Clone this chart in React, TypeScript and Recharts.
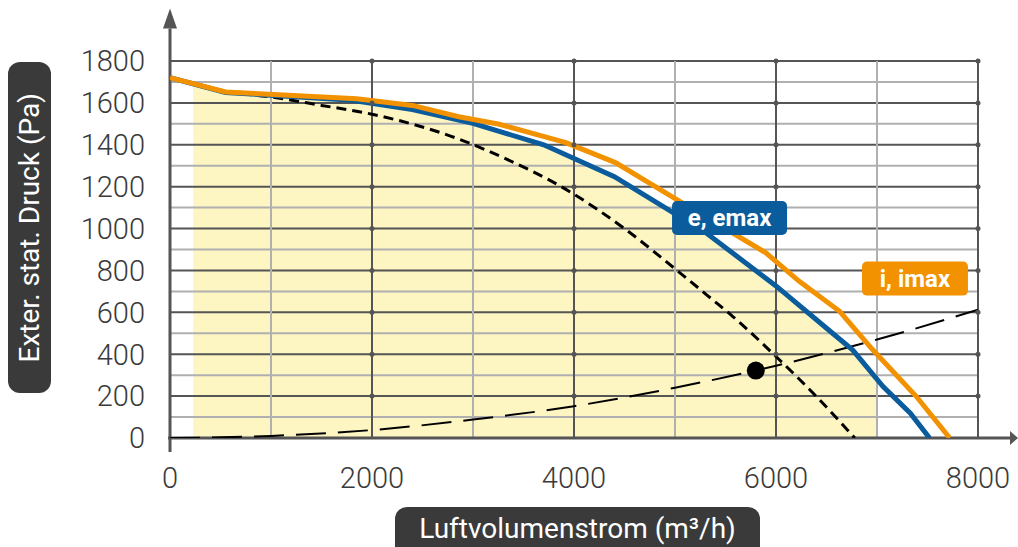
import React from "react";
import {
  ComposedChart,
  Line,
  Area,
  XAxis,
  YAxis,
  ReferenceLine,
  ReferenceDot,
} from "recharts";

// e, emax (blue)
const flowE = [0, 550, 1800, 2400, 3000, 3700, 4400, 5300, 6000, 6560, 6760, 7060, 7330, 7520];
const pressE = [1720, 1650, 1612, 1568, 1502, 1400, 1248, 982, 726, 500, 420, 246, 118, 0];

// i, imax (orange)
const flowI = [0, 550, 1850, 2400, 2860, 3260, 3920, 4410, 5010, 5900, 6230, 6630, 6960, 7390, 7720];
const pressI = [1720, 1652, 1620, 1588, 1534, 1498, 1410, 1315, 1140, 884, 748, 605, 420, 198, 0];

// short dashed curve
const flowD = [550, 1000, 1500, 2000, 2860, 3260, 3920, 4510, 5010, 5370, 5570, 6000, 6400, 6780];
const pressD = [1650, 1628, 1588, 1546, 1427, 1347, 1187, 996, 804, 661, 581, 389, 198, 0];

// system curve (long dashes)
const flowS = [0, 1000, 2000, 3000, 4000, 5000, 6000, 7000, 8000];
const pressS = [0, 10, 38, 88, 152, 240, 345, 470, 612];

// yellow working range
const flowF = [230, 550, 1800, 2400, 3000, 3700, 4400, 5300, 6000, 6560, 6760, 7000];
const pressF = [1692, 1650, 1612, 1568, 1502, 1400, 1248, 982, 726, 500, 420, 280];

const opPoint = { q: 5800, p: 322 };

const xTicks = [0, 2000, 4000, 6000, 8000];
const yTicks = [0, 200, 400, 600, 800, 1000, 1200, 1400, 1600, 1800];
const xGrid = [1000, 2000, 3000, 4000, 5000, 6000, 7000, 8000];
const yGrid = [100, 200, 300, 400, 500, 600, 700, 800, 900, 1000, 1100, 1200, 1300, 1400, 1500, 1600, 1700, 1800];
const dotX = [2000, 4000, 6000, 8000];
const dotY = [200, 400, 600, 800, 1000, 1200, 1400, 1600, 1800];

const labelE = { q: 5540, p: 1050, text: "e, emax" };
const labelI = { q: 7376, p: 761, text: "i, imax" };

const BLUE = "#0a5c9c";
const ORANGE = "#f39200";
const DARK = "#555555";
const LIGHT = "#b0b0b0";

function buildRows() {
  const rows: any[] = [];
  flowE.forEach((q, i) => rows.push({ q, e: pressE[i] }));
  flowI.forEach((q, i) => rows.push({ q, i: pressI[i] }));
  flowD.forEach((q, i) => rows.push({ q, d: pressD[i] }));
  flowS.forEach((q, i) => rows.push({ q, s: pressS[i] }));
  flowF.forEach((q, i) => rows.push({ q, f: pressF[i] }));
  rows.sort((a, b) => a.q - b.q);
  return rows;
}

const rows = buildRows();

const tagShape = (text: string, color: string, w: number) => (props: any) => {
  const { cx, cy } = props;
  return (
    <g>
      <rect x={cx - w / 2} y={cy - 17} width={w} height={34} rx={5} fill={color} />
      <text
        x={cx}
        y={cy + 8}
        textAnchor="middle"
        fill="#fff"
        fontSize={24}
        fontWeight={700}
        fontFamily="Roboto, sans-serif"
      >
        {text}
      </text>
    </g>
  );
};

const upArrow = (props: any) => {
  const { cx, cy } = props;
  return <path d={`M${cx - 7},${cy} L${cx},${cy - 20} L${cx + 7},${cy} Z`} fill={DARK} />;
};

const rightArrow = (props: any) => {
  const { cx, cy } = props;
  return <path d={`M${cx - 8},${cy - 7} L${cx},${cy} L${cx - 8},${cy + 7} Z`} fill={DARK} />;
};

const tickStyle = { fontSize: 29, fill: "#3a3a3a", fontFamily: "Roboto, sans-serif", fontWeight: 300 };

export default function App() {
  return (
    <div style={{ position: "relative", width: 1018, height: 547, background: "#fff", overflow: "hidden" }}>
      <style>{"body{margin:0}"}</style>

      <ComposedChart
        width={1018}
        height={547}
        data={rows}
        margin={{ top: 61, right: 40, bottom: 0, left: 0 }}
      >
        <XAxis
          dataKey="q"
          type="number"
          domain={[0, 8000]}
          ticks={xTicks}
          height={109}
          axisLine={false}
          tickLine={false}
          tickSize={0}
          tickMargin={29}
          tick={tickStyle}
          allowDataOverflow
        />
        <YAxis
          type="number"
          domain={[0, 1800]}
          ticks={yTicks}
          width={170}
          axisLine={false}
          tickLine={false}
          tickSize={0}
          tickMargin={25}
          tick={tickStyle}
          allowDataOverflow
        />

        <Area
          dataKey="f"
          type="linear"
          stroke="none"
          fill="#fdf5c2"
          fillOpacity={1}
          connectNulls
          isAnimationActive={false}
          dot={false}
          activeDot={false}
        />

        {yGrid.map((v) => (
          <ReferenceLine
            key={"h" + v}
            y={v}
            stroke={v % 200 === 0 ? DARK : LIGHT}
            strokeWidth={2}
          />
        ))}
        {xGrid.map((v) => (
          <ReferenceLine
            key={"v" + v}
            x={v}
            stroke={v % 2000 === 0 ? DARK : LIGHT}
            strokeWidth={2}
          />
        ))}
        {dotX.map((x) =>
          dotY.map((y) => (
            <ReferenceDot key={`d${x}-${y}`} x={x} y={y} r={2.5} fill={DARK} stroke="none" />
          ))
        )}

        {/* axes with arrows */}
        <ReferenceLine
          segment={[{ x: -20, y: 0 }, { x: 8320, y: 0 }]}
          stroke={DARK}
          strokeWidth={3}
          ifOverflow="visible"
        />
        <ReferenceLine
          segment={[{ x: 0, y: -67 }, { x: 0, y: 1955 }]}
          stroke={DARK}
          strokeWidth={3}
          ifOverflow="visible"
        />
        <ReferenceDot x={0} y={1955} r={1} ifOverflow="visible" shape={upArrow} />
        <ReferenceDot x={8396} y={0} r={1} ifOverflow="visible" shape={rightArrow} />

        <Line
          dataKey="s"
          type="monotone"
          stroke="#000"
          strokeWidth={2}
          strokeDasharray="30 12"
          dot={false}
          activeDot={false}
          connectNulls
          isAnimationActive={false}
        />
        <Line
          dataKey="d"
          type="monotone"
          stroke="#000"
          strokeWidth={3}
          strokeDasharray="10 6"
          dot={false}
          activeDot={false}
          connectNulls
          isAnimationActive={false}
        />
        <Line
          dataKey="e"
          type="linear"
          stroke={BLUE}
          strokeWidth={5}
          dot={false}
          activeDot={false}
          connectNulls
          isAnimationActive={false}
        />
        <Line
          dataKey="i"
          type="linear"
          stroke={ORANGE}
          strokeWidth={5}
          dot={false}
          activeDot={false}
          connectNulls
          isAnimationActive={false}
        />

        <ReferenceDot x={opPoint.q} y={opPoint.p} r={9} fill="#000" stroke="none" />

        <ReferenceDot x={labelE.q} y={labelE.p} r={1} shape={tagShape(labelE.text, BLUE, 115)} />
        <ReferenceDot x={labelI.q} y={labelI.p} r={1} shape={tagShape(labelI.text, ORANGE, 106)} />
      </ComposedChart>

      <div
        style={{
          position: "absolute",
          left: 8,
          top: 62,
          width: 43,
          height: 331,
          borderRadius: 12,
          background: "#3a3a3a",
          display: "flex",
          alignItems: "center",
          justifyContent: "center",
        }}
      >
        <span
          style={{
            writingMode: "vertical-rl",
            transform: "rotate(180deg)",
            color: "#fff",
            fontFamily: "Roboto, sans-serif",
            fontSize: 28,
            whiteSpace: "nowrap",
          }}
        >
          Exter. stat. Druck (Pa)
        </span>
      </div>
      <div
        style={{
          position: "absolute",
          left: 395,
          top: 507,
          width: 365,
          height: 52,
          borderRadius: 12,
          background: "#3a3a3a",
          color: "#fff",
          fontFamily: "Roboto, sans-serif",
          fontSize: 28,
          lineHeight: "44px",
          textAlign: "center",
          whiteSpace: "nowrap",
        }}
      >
        Luftvolumenstrom (m³/h)
      </div>
    </div>
  );
}
